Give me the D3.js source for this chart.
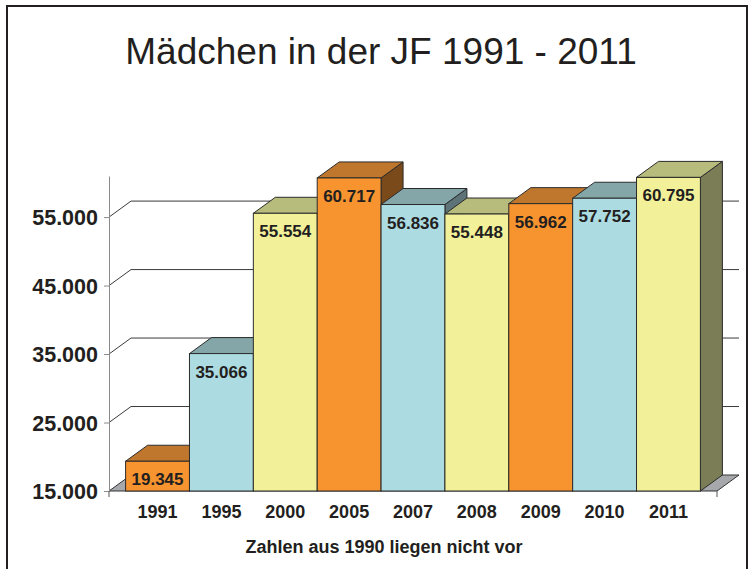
<!DOCTYPE html>
<html>
<head>
<meta charset="utf-8">
<script src="https://cdn.jsdelivr.net/npm/d3@7"></script>
<style>
  body { margin: 0; background: #fff; }
  svg { display: block; font-family: "Liberation Sans", Arial, sans-serif; }
</style>
</head>
<body>
<script>
// data
const years = ["1991", "1995", "2000", "2005", "2007", "2008", "2009", "2010", "2011"];
const girls = [19345, 35066, 55554, 60717, 56836, 55448, 56962, 57752, 60795];
const yTicks = [15000, 25000, 35000, 45000, 55000];
const barColors = ["orange", "blue", "yellow", "orange", "blue", "yellow", "orange", "blue", "yellow"];

const shades = {
  orange: {front: "#F7942F", top: "#BF772E", side: "#7A4A1B"},
  blue:   {front: "#ACDCE2", top: "#84A6A9", side: "#5E7377"},
  yellow: {front: "#F2F19A", top: "#B7BC7D", side: "#7A7D56"}
};

const width = 749, height = 569;
const dx = 22, dy = -16; // depth offset of the 3d look

const svg = d3.select("body").append("svg")
    .attr("width", width)
    .attr("height", height);

// frame
svg.append("rect")
    .attr("x", 7).attr("y", 6)
    .attr("width", 740).attr("height", 580)
    .attr("fill", "none")
    .attr("stroke", "#231F20")
    .attr("stroke-width", 2);

// title
svg.append("text")
    .attr("x", 381).attr("y", 64)
    .attr("text-anchor", "middle")
    .attr("font-size", 37)
    .attr("fill", "#231F20")
    .text("Mädchen in der JF 1991 - 2011");

const x = d3.scaleBand()
    .domain(years)
    .range([109, 717])
    .paddingInner(0)
    .paddingOuter(0.26);

const y = d3.scaleLinear()
    .domain([15000, 61000])
    .range([491, 176]);

const locale = d3.formatLocale({decimal: ",", thousands: ".", grouping: [3], currency: ["", "€"]});
const fmt = locale.format(",.0f");

const x0 = x.range()[0], x1 = x.range()[1];
const y0 = y(15000);

// floor
svg.append("path")
    .attr("d", `M${x0},${y0} L${x0 + dx},${y0 + dy} L${x1 + dx},${y0 + dy} L${x1},${y0} Z`)
    .attr("fill", "#A6A8AB")
    .attr("stroke", "#333")
    .attr("stroke-width", 1);

// back wall gridlines
svg.append("g").selectAll("path")
  .data(yTicks.slice(1))
  .join("path")
    .attr("d", d => `M${x0},${y(d)} L${x0 + dx},${y(d) + dy} L${x1 + dx},${y(d) + dy}`)
    .attr("fill", "none")
    .attr("stroke", "#3a3a3a")
    .attr("stroke-width", 1);

// y axis
const yAxis = svg.append("g")
    .attr("transform", `translate(${x0},0)`)
    .call(d3.axisLeft(y).tickValues(yTicks).tickFormat(fmt).tickSize(5).tickSizeOuter(0).tickPadding(6));
yAxis.select(".domain").attr("stroke", "#8a8a8a");
yAxis.selectAll(".tick line").attr("stroke", "#8a8a8a");
yAxis.selectAll(".tick text")
    .attr("font-family", "Liberation Sans, Arial, sans-serif")
    .attr("font-size", 21.5)
    .attr("font-weight", "bold")
    .attr("fill", "#231F20")
    .attr("dy", "0.36em");

// end ticks of the category axis
svg.append("g").selectAll("line")
  .data([x0, x1])
  .join("line")
    .attr("x1", d => d).attr("x2", d => d)
    .attr("y1", y0).attr("y2", y0 + 6)
    .attr("stroke", "#555");

// bars
const bars = svg.append("g").selectAll("g")
  .data(years.map((yr, i) => ({year: yr, value: girls[i], color: shades[barColors[i]]})))
  .join("g");

bars.append("path") // side
    .attr("d", d => {
      const r = x(d.year) + x.bandwidth(), t = y(d.value);
      return `M${r},${t} L${r + dx},${t + dy} L${r + dx},${y0 + dy} L${r},${y0} Z`;
    })
    .attr("fill", d => d.color.side)
    .attr("stroke", "#2b2b2b");

bars.append("path") // top
    .attr("d", d => {
      const l = x(d.year), r = l + x.bandwidth(), t = y(d.value);
      return `M${l},${t} L${l + dx},${t + dy} L${r + dx},${t + dy} L${r},${t} Z`;
    })
    .attr("fill", d => d.color.top)
    .attr("stroke", "#2b2b2b");

bars.append("rect") // front
    .attr("x", d => x(d.year))
    .attr("y", d => y(d.value))
    .attr("width", x.bandwidth())
    .attr("height", d => y0 - y(d.value))
    .attr("fill", d => d.color.front)
    .attr("stroke", "#2b2b2b");

bars.append("text")
    .attr("x", d => x(d.year) + x.bandwidth() / 2)
    .attr("y", d => y(d.value) + 24)
    .attr("text-anchor", "middle")
    .attr("font-size", 17)
    .attr("font-weight", "bold")
    .attr("fill", "#231F20")
    .text(d => fmt(d.value));

// year labels
svg.append("g").selectAll("text")
  .data(years)
  .join("text")
    .attr("x", d => x(d) + x.bandwidth() / 2)
    .attr("y", 518)
    .attr("text-anchor", "middle")
    .attr("font-size", 18)
    .attr("font-weight", "bold")
    .attr("fill", "#231F20")
    .text(d => d);

// note
svg.append("text")
    .attr("x", 384).attr("y", 553)
    .attr("text-anchor", "middle")
    .attr("font-size", 18)
    .attr("font-weight", "bold")
    .attr("fill", "#231F20")
    .text("Zahlen aus 1990 liegen nicht vor");
</script>
</body>
</html>
